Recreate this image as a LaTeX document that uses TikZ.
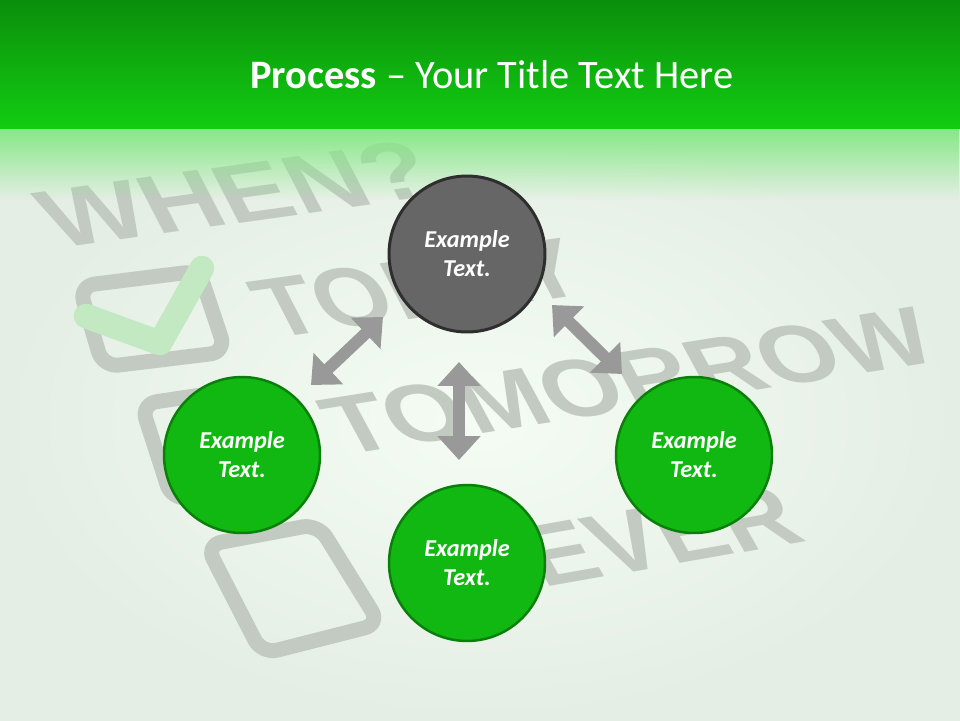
\documentclass[tikz,border=0pt]{standalone}
\usepackage{fontspec}
\setmainfont{Carlito}
\newfontfamily\bgfont{Liberation Sans}
\usetikzlibrary{arrows.meta,fadings}
\definecolor{topA}{HTML}{0B8F0B}
\definecolor{topB}{HTML}{12CC12}
\definecolor{fadegreen}{HTML}{84E884}
\definecolor{bgin}{HTML}{F4FCF4}
\definecolor{bgout}{HTML}{E5EEE5}
\definecolor{wordgray}{HTML}{C2CAC2}
\definecolor{checkgreen}{HTML}{C2E9C2}
\definecolor{arrowgray}{HTML}{999999}
\definecolor{circgray}{HTML}{666666}
\definecolor{circgrayline}{HTML}{2E2E2E}
\definecolor{circgreen}{HTML}{12B812}
\definecolor{circgreenline}{HTML}{0A7F0A}
\tikzset{
  bgword/.style={text=wordgray, inner sep=0pt},
  boxline/.style={draw=wordgray, line width=8.5pt, rounded corners=9pt, line join=round},
  dblarrow/.style={draw=arrowgray, line width=6.8pt,
    {Triangle[width=23.8pt,length=13.6pt]}-{Triangle[width=23.8pt,length=13.6pt]}},
  circbase/.style={circle, minimum size=3.12cm, inner sep=0pt, align=center,
    text=white, font=\fontsize{13.8}{16.5}\selectfont\bfseries\itshape},
  graycirc/.style={circbase, fill=circgray, draw=circgrayline, line width=1.7pt},
  greencirc/.style={circbase, fill=circgreen, draw=circgreenline, line width=1.4pt},
}
\begin{document}
\begin{tikzpicture}[x=0.02cm,y=-0.02cm]
\useasboundingbox (0,0) rectangle (960,720);
% background
\shade[inner color=bgin, outer color=bgout] (0,120) rectangle (960,720);
% faded background words
\node[bgword, font=\bgfont\bfseries\fontsize{48}{48}\selectfont, rotate=8, xslant=-0.35, xscale=1.25] (when) at (236,194) {WHEN?};
\node[bgword, font=\bgfont\bfseries\fontsize{49}{49}\selectfont, rotate=8, xslant=-0.35, xscale=1.1] (today) at (418,288) {TODAY};
\node[bgword, font=\bgfont\bfseries\fontsize{48}{48}\selectfont, rotate=9, xslant=-0.35, xscale=1.17] (tomorrow) at (628,381) {TOMORROW};
\node[bgword, font=\bgfont\bfseries\fontsize{51}{51}\selectfont, rotate=10, xslant=-0.35, xscale=1.1] (ever) at (660,536) {EVER};
% checkboxes
\draw[boxline] (79,286) -- (199,271) -- (226,352) -- (103,367) -- cycle;
\draw[boxline] (141,404) -- (268,385) -- (312,480) -- (172,500) -- cycle;
\draw[boxline] (206,545) -- (318,524) -- (380,624) -- (262,654) -- cycle;
\draw[draw=checkgreen, line width=14pt, line cap=round, line join=round] (86,316) -- (160,343) -- (202,268);
% green fade below the title band
\fill[fadegreen, path fading=south] (0,127) rectangle (960,200);
% title band
\shade[top color=topA, bottom color=topB] (0,0) rectangle (960,128);
\node[text=white, font=\fontsize{23}{27}\selectfont] (title) at (492,75) {\textbf{Process} \textendash{} Your Title Text Here};
% arrows
\coordinate (l1) at (311,385); \coordinate (l2) at (383,317);
\coordinate (v1) at (459,362); \coordinate (v2) at (459,460);
\coordinate (r1) at (552,305); \coordinate (r2) at (622,374);
\draw[dblarrow] (l1) -- (l2);
\draw[dblarrow] (v1) -- (v2);
\draw[dblarrow] (r1) -- (r2);
% circles
\node[graycirc] (c0) at (467,254) {Example\\Text.};
\node[greencirc] (cl) at (242,455) {Example\\Text.};
\node[greencirc] (cr) at (694,455) {Example\\Text.};
\node[greencirc] (cb) at (467,563) {Example\\Text.};
\end{tikzpicture}
\end{document}
